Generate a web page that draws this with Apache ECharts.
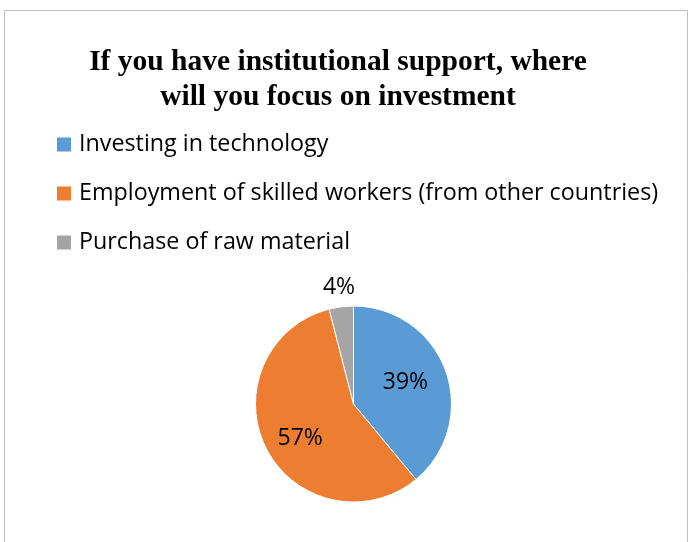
<!DOCTYPE html>
<html>
<head>
<meta charset="utf-8">
<script src="https://cdn.jsdelivr.net/npm/echarts@6/dist/echarts.min.js"></script>
<style>
  html, body { margin: 0; padding: 0; background: #fff; }
  #chart { width: 690px; height: 542px; }
</style>
</head>
<body>
<div id="chart"></div>
<script>
// Survey answers: where institutional support would be invested
const categories = [
  'Investing in technology',
  'Employment of skilled workers (from other countries)',
  'Purchase of raw material'
];
const shares = [39, 57, 4];
const colors = ['#5B9BD5', '#ED7D31', '#A5A5A5'];
// nudges of the percentage labels; the thin grey slice gets its label above the pie
const labelNudges = [[3, -4], [-7, 11], [-8, -65]];

const chart = echarts.init(document.getElementById('chart'), null, { renderer: 'canvas' });

const pieData = categories.map((name, i) => ({
  name: name,
  value: shares[i],
  itemStyle: { color: colors[i] },
  label: { offset: labelNudges[i] }
}));

chart.setOption({
  animation: false,
  backgroundColor: '#ffffff',
  graphic: [{
    type: 'rect',
    shape: { x: 4.5, y: 10.5, width: 683, height: 560 },
    style: { fill: 'none', stroke: '#bfbfbf', lineWidth: 1 },
    silent: true
  }],
  title: {
    text: 'If you have institutional support, where\nwill you focus on investment',
    left: 333,
    top: 40,
    textAlign: 'center',
    textStyle: {
      fontFamily: 'Liberation Serif',
      fontWeight: 'bold',
      fontSize: 29.5,
      lineHeight: 35,
      color: '#000'
    }
  },
  legend: {
    orient: 'vertical',
    left: 57,
    top: 133,
    padding: 0,
    icon: 'rect',
    itemWidth: 14,
    itemHeight: 14,
    itemGap: 26,
    data: categories,
    selectedMode: false,
    itemStyle: { borderWidth: 0 },
    textStyle: {
      fontFamily: 'Open Sans',
      fontSize: 23.3,
      color: '#000',
      padding: [0, 0, 0, 3]
    }
  },
  series: [{
    type: 'pie',
    center: [353.5, 404],
    radius: [0, 98],
    startAngle: 90,
    clockwise: true,
    avoidLabelOverlap: false,
    itemStyle: { borderColor: '#ffffff', borderWidth: 1 },
    label: {
      show: true,
      position: 'inner',
      formatter: '{c}%',
      fontFamily: 'Open Sans',
      fontSize: 23,
      color: '#000'
    },
    labelLine: { show: false },
    emphasis: { disabled: true },
    data: pieData
  }]
});
</script>
</body>
</html>
